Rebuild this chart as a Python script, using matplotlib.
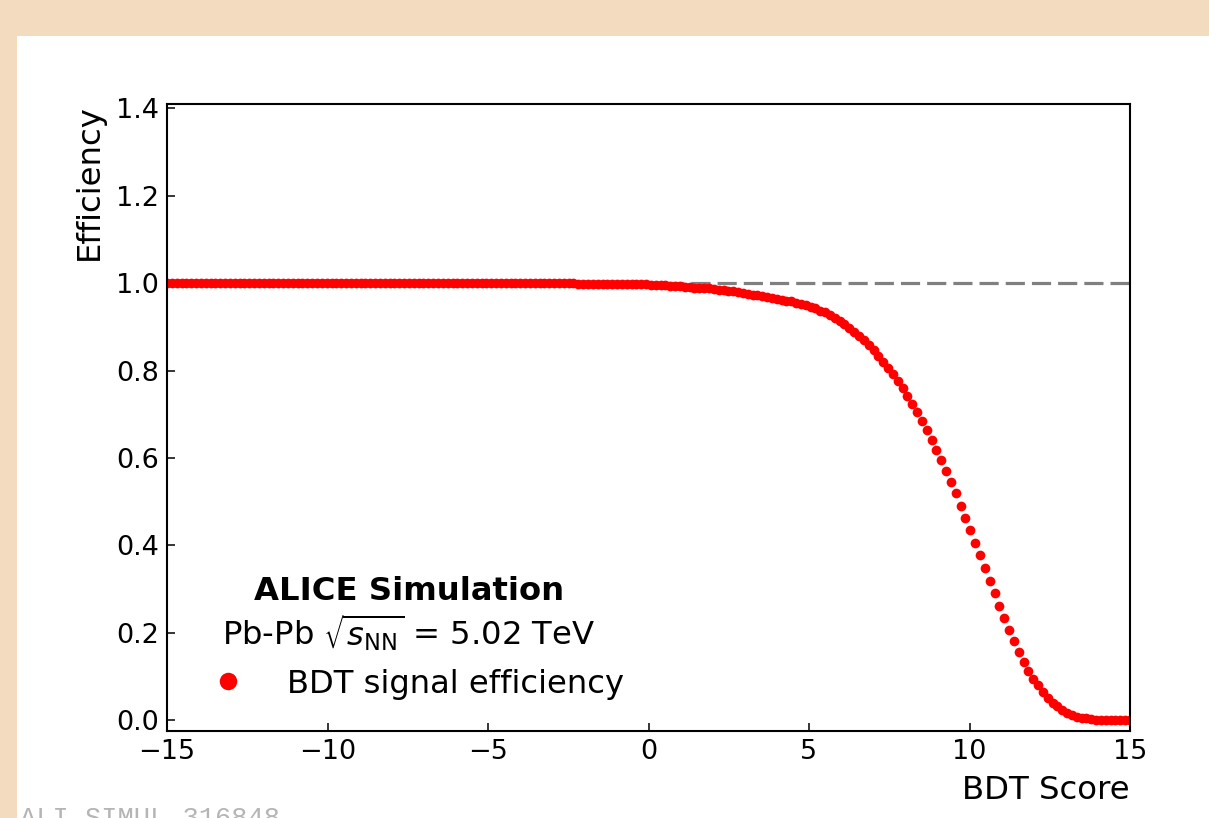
import numpy as np
import matplotlib
matplotlib.use("Agg")
import matplotlib.pyplot as plt
from matplotlib.patches import Rectangle

# BDT score grid (200 bins from -15 to 15)
bdt_score = np.linspace(-15, 15, 200)

# signal efficiency, 20 values per row
efficiency = [
    1.000, 1.000, 1.000, 1.000, 1.000, 1.000, 1.000, 1.000, 1.000, 1.000,
    1.000, 1.000, 1.000, 1.000, 1.000, 1.000, 1.000, 1.000, 1.000, 1.000,
    1.000, 1.000, 1.000, 1.000, 1.000, 1.000, 1.000, 1.000, 1.000, 1.000,
    1.000, 1.000, 1.000, 1.000, 1.000, 1.000, 1.000, 1.000, 1.000, 1.000,
    1.000, 1.000, 1.000, 1.000, 1.000, 1.000, 1.000, 1.000, 1.000, 1.000,
    1.000, 1.000, 1.000, 1.000, 1.000, 1.000, 1.000, 1.000, 1.000, 1.000,
    1.000, 1.000, 1.000, 1.000, 1.000, 1.000, 1.000, 1.000, 1.000, 1.000,
    1.000, 1.000, 1.000, 1.000, 1.000, 1.000, 1.000, 1.000, 1.000, 1.000,
    1.000, 1.000, 1.000, 1.000, 1.000, 0.999, 0.999, 0.999, 0.999, 0.999,
    0.999, 0.999, 0.999, 0.998, 0.998, 0.998, 0.998, 0.998, 0.997, 0.997,
    0.996, 0.996, 0.995, 0.995, 0.994, 0.994, 0.993, 0.992, 0.991, 0.990,
    0.990, 0.989, 0.988, 0.987, 0.985, 0.984, 0.982, 0.981, 0.979, 0.978,
    0.976, 0.974, 0.972, 0.970, 0.968, 0.966, 0.964, 0.962, 0.960, 0.958,
    0.955, 0.952, 0.949, 0.946, 0.942, 0.937, 0.933, 0.927, 0.921, 0.914,
    0.906, 0.898, 0.889, 0.880, 0.869, 0.858, 0.847, 0.834, 0.820, 0.806,
    0.791, 0.775, 0.759, 0.742, 0.723, 0.704, 0.685, 0.663, 0.641, 0.619,
    0.595, 0.571, 0.546, 0.519, 0.491, 0.463, 0.435, 0.406, 0.377, 0.347,
    0.319, 0.290, 0.261, 0.234, 0.207, 0.181, 0.155, 0.134, 0.113, 0.094,
    0.080, 0.065, 0.051, 0.040, 0.032, 0.023, 0.017, 0.012, 0.008, 0.005,
    0.004, 0.002, 0.001, 0.001, 0.000, 0.000, 0.000, 0.000, 0.000, 0.000,
]

xticks = [-15, -10, -5, 0, 5, 10, 15]
yticks = [0.0, 0.2, 0.4, 0.6, 0.8, 1.0, 1.2, 1.4]

fig = plt.figure(figsize=(12.09, 8.18), dpi=100)
fig.patch.set_facecolor("#F3DBBF")
# white page on top of the peach frame
fig.patches.append(Rectangle((17 / 1209, 0), 1, 1 - 36 / 818, transform=fig.transFigure,
                             facecolor="white", edgecolor="none", zorder=-10))

ax = fig.add_axes([167 / 1209, 1 - 731 / 818, 963 / 1209, 627 / 818])
ax.set_facecolor("white")

ax.axhline(1.0, color="grey", lw=2.3, dashes=(6.0, 2.2), zorder=1)
ax.plot(bdt_score, efficiency, "o", color="red", ms=7.0, mec="none",
        zorder=2, label="BDT signal efficiency")

ax.set_xlim(-15, 15)
ax.set_ylim(-0.025, 1.41)
ax.set_xticks(xticks)
ax.set_yticks(yticks)
ax.set_yticklabels([f"{v:.1f}" for v in yticks])
ax.tick_params(direction="in", labelsize=19.5, length=6, width=1.1, pad=6)
for s in ax.spines.values():
    s.set_linewidth(1.5)

ax.set_xlabel("BDT Score", fontsize=23.3, loc="right", labelpad=7)
ax.set_ylabel("Efficiency", fontsize=23.3, loc="top", labelpad=8)

ax.text(409 / 1209, 1 - 591 / 818, "ALICE Simulation", transform=fig.transFigure,
        fontsize=23.2, fontweight="bold", ha="center", va="center")
ax.text(222 / 1209, 1 - 633 / 818, r"Pb-Pb $\sqrt{s_{\rm NN}}$ = 5.02 TeV",
        transform=fig.transFigure, fontsize=23.2, ha="left", va="center")

leg = ax.legend(loc="center left", bbox_to_anchor=(196 / 1209, 1 - 684 / 818),
                bbox_transform=fig.transFigure, frameon=False, fontsize=23.2,
                markerscale=1.8, handlelength=2.0, handletextpad=0.82,
                borderpad=0, borderaxespad=0)

fig.text(20 / 1209, -8 / 818, "ALI-SIMUL-316848", fontsize=19.5,
         family="Liberation Mono", color="#b5b5b5", ha="left", va="baseline")

fig.savefig("out.png", dpi=100, facecolor=fig.get_facecolor())
